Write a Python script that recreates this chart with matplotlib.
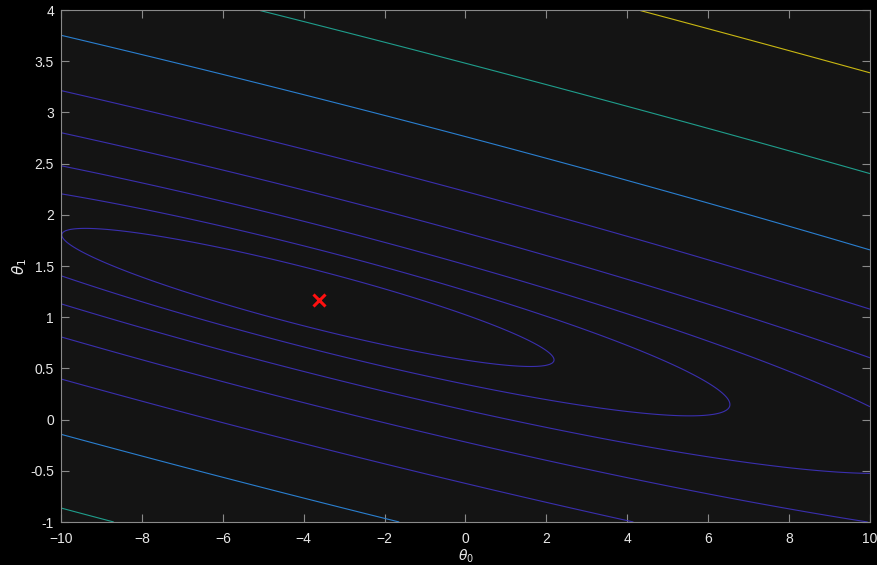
import numpy as np
import matplotlib
matplotlib.use("Agg")
import matplotlib.pyplot as plt

# Linear-regression cost surface J(theta0, theta1) for the city population / profit data
m = 97                      # number of training examples
mean_x = 8.1598             # mean population (10,000s)
mean_x2 = 81.40             # mean of squared population
theta_opt = (-3.8958, 1.1930)   # least-squares minimiser
J_min = 4.4770              # cost at the minimiser
theta_gd = (-3.6303, 1.1664)    # result of gradient descent (1500 iterations)

theta0_range = (-10, 10)
theta1_range = (-1, 4)
levels = np.logspace(-2, 3, 20)


def level_color(v):
    """Colour of one contour level (parula-like steps)."""
    if v < 120:
        return "#3a2fae"
    if v < 220:
        return "#2a7fd0"
    if v < 400:
        return "#1f9e8c"
    return "#c9b812"


theta0_vals = np.linspace(*theta0_range, 400)
theta1_vals = np.linspace(*theta1_range, 400)
T0, T1 = np.meshgrid(theta0_vals, theta1_vals)
d0 = T0 - theta_opt[0]
d1 = T1 - theta_opt[1]
J_vals = J_min + 0.5 * (d0 ** 2 + 2 * mean_x * d0 * d1 + mean_x2 * d1 ** 2)

plt.rcParams["font.family"] = ["Liberation Sans", "DejaVu Sans"]

fig = plt.figure(figsize=(8.78, 5.65), dpi=100, facecolor="black")
ax = fig.add_axes([61 / 878, 1 - 522 / 565, (870 - 61) / 878, (522 - 10) / 565])
ax.set_facecolor("#141414")

zmin, zmax = J_vals.min(), J_vals.max()
for lv in levels:
    if zmin < lv < zmax:
        ax.contour(T0, T1, J_vals, levels=[lv], colors=[level_color(lv)],
                   linewidths=0.8)

ax.plot(theta_gd[0], theta_gd[1], marker="x", color="#ff1010",
        markersize=8, markeredgewidth=2.2, linestyle="none")

ax.set_xlim(*theta0_range)
ax.set_ylim(*theta1_range)
ax.set_xticks(np.arange(-10, 11, 2))
yt = np.arange(-1, 4.01, 0.5)
ax.set_yticks(yt)
ax.set_yticklabels([f"{v:g}" for v in yt])

for s in ax.spines.values():
    s.set_color("#8a8a8a")
    s.set_linewidth(0.8)
ax.tick_params(direction="in", top=True, right=True, length=6, width=0.8,
               color="#8a8a8a", labelcolor="#e8e8e8", labelsize=10)
ax.tick_params(axis="x", pad=7)
ax.tick_params(axis="y", pad=5)

ax.set_xlabel(r"$\theta_0$", color="#e8e8e8", fontsize=10, labelpad=1)
ax.set_ylabel(r"$\theta_1$", color="#e8e8e8", fontsize=11, labelpad=1)

fig.savefig("out.png", dpi=100, facecolor="black")
